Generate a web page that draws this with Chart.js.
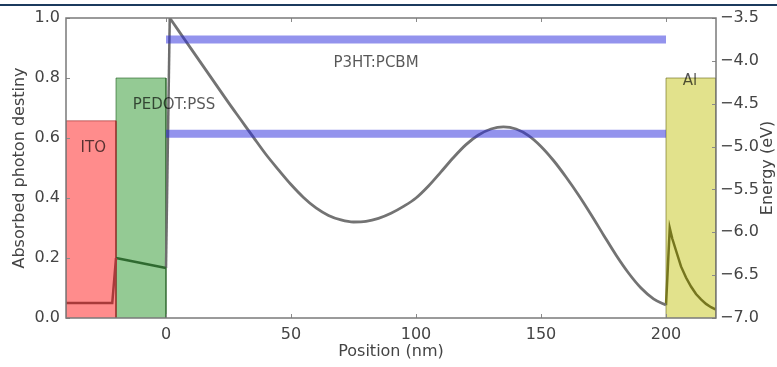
<!DOCTYPE html>
<html><head><meta charset="utf-8">
<script src="https://cdn.jsdelivr.net/npm/chart.js@4.4.1/dist/chart.umd.min.js"></script>
<style>html,body{margin:0;padding:0;background:#fff;} canvas{display:block;}</style>
</head><body>
<canvas id="c" width="777" height="367"></canvas>
<script>
// ---- data ----
const xTicks = [0, 50, 100, 150, 200];
const leftTicks = [0, 0.2, 0.4, 0.6, 0.8, 1.0];
const rightTicks = [-7.0, -6.5, -6.0, -5.5, -5.0, -4.5, -4.0, -3.5];

const layerNames = ['ITO', 'PEDOT:PSS', 'P3HT:PCBM', 'Al'];
const layerStart = [-40, -20, 0, 200];
const layerEnd = [-20, 0, 200, 220];
const layerEnergy = [-4.7, -4.2, null, -4.2];   // work functions (eV)
const bandEnergy = [-3.75, -4.85];               // P3HT:PCBM levels (eV)

const itoX = [-40, -21.5, -20];
const itoY = [0.05, 0.05, 0.2];
const pedotX = [-20, 0];
const pedotY = [0.2, 0.167];
const p3htX = [0, 1.5, 5, 10, 15, 20, 25, 30, 35, 40, 45, 50, 55, 60, 65, 70, 75, 80, 85, 90, 95, 100,
  105, 110, 115, 120, 125, 130, 135, 140, 145, 150, 155, 160, 165, 170, 175, 180, 185, 190, 195, 200];
const p3htY = [0.167, 1.0, 0.958, 0.898, 0.838, 0.778, 0.718, 0.66, 0.602, 0.545, 0.494, 0.445, 0.402, 0.367,
  0.342, 0.327, 0.32, 0.322, 0.332, 0.349, 0.372, 0.40, 0.44, 0.487, 0.535, 0.578, 0.61, 0.63, 0.637, 0.63,
  0.608, 0.572, 0.525, 0.47, 0.41, 0.345, 0.277, 0.21, 0.15, 0.10, 0.064, 0.043];
const alX = [200, 201.5, 202.5, 204, 206, 208, 210, 212, 214, 216, 218, 220];
const alY = [0.043, 0.30, 0.265, 0.225, 0.172, 0.135, 0.105, 0.08, 0.062, 0.047, 0.036, 0.028];

// ---- build ----
const pts = (xs, ys) => xs.map((v, i) => ({x: v, y: ys[i]}));
const rectFill = ['rgba(255,0,0,0.45)', 'rgba(0,128,0,0.42)', null, 'rgba(191,191,0,0.45)'];
const rectEdge = ['rgba(150,40,40,0.6)', 'rgba(30,90,30,0.6)', null, 'rgba(100,100,20,0.6)'];

const datasets = [];
layerEnergy.forEach((e, i) => {
  if (e === null) return;
  datasets.push({
    label: layerNames[i], yAxisID: 'y2', order: 3,
    data: [{x: layerStart[i], y: -7}, {x: layerStart[i], y: e}, {x: layerEnd[i], y: e}, {x: layerEnd[i], y: -7}],
    backgroundColor: rectFill[i], borderColor: rectEdge[i], borderWidth: 1, fill: 'start',
    pointRadius: 0, tension: 0
  });
});
bandEnergy.forEach((e) => {
  datasets.push({
    label: 'band', yAxisID: 'y2', order: 0,
    data: [{x: layerStart[2], y: e}, {x: layerEnd[2], y: e}],
    borderColor: 'rgba(40,40,220,0.5)', borderWidth: 8, borderCapStyle: 'butt',
    pointRadius: 0, fill: false
  });
});
datasets.push({label: 'ito', yAxisID: 'y', order: 1, data: pts(itoX, itoY), borderColor: '#a83a3a', borderWidth: 2.5, pointRadius: 0, fill: false, tension: 0});
datasets.push({label: 'pedot', yAxisID: 'y', order: 1, data: pts(pedotX, pedotY), borderColor: '#2f6a30', borderWidth: 2.5, pointRadius: 0, fill: false, tension: 0});
datasets.push({label: 'p3ht riser', yAxisID: 'y', order: 1, data: pts(p3htX.slice(0, 2), p3htY.slice(0, 2)), borderColor: '#6e6e6e', borderWidth: 2.5, pointRadius: 0, fill: false, tension: 0});
datasets.push({label: 'p3ht', yAxisID: 'y', order: 1, data: pts(p3htX.slice(1), p3htY.slice(1)), borderColor: '#737373', borderWidth: 2.8, pointRadius: 0, fill: false, cubicInterpolationMode: 'monotone'});
datasets.push({label: 'al', yAxisID: 'y', order: 1, data: pts(alX, alY), borderColor: '#76761e', borderWidth: 2.5, pointRadius: 0, fill: false, tension: 0});

const textLabels = [
  {t: layerNames[0], x: -29.1, y: 0.567},
  {t: layerNames[1], x: 3.2, y: 0.71},
  {t: layerNames[2], x: 84, y: 0.85},
  {t: layerNames[3], x: 209.6, y: 0.79}
];

const deco = {
  id: 'deco',
  beforeDraw(chart) {
    const c = chart.ctx;
    c.save();
    c.fillStyle = '#fff'; c.fillRect(0, 0, chart.width, chart.height);
    c.fillStyle = '#1b3a5e'; c.fillRect(0, 4, chart.width, 2);
    c.restore();
  },
  afterDatasetsDraw(chart) {
    const {ctx, chartArea: a, scales: {x, y, y2}} = chart;
    ctx.save();
    ctx.font = '15px "DejaVu Sans"';
    ctx.fillStyle = 'rgba(0,0,0,0.66)';
    ctx.textAlign = 'center'; ctx.textBaseline = 'middle';
    textLabels.forEach(l => ctx.fillText(l.t, x.getPixelForValue(l.x), y.getPixelForValue(l.y)));
    // inward tick marks
    ctx.strokeStyle = '#8a8a8a'; ctx.lineWidth = 1;
    ctx.beginPath();
    xTicks.forEach(v => { const p = Math.round(x.getPixelForValue(v)) + 0.5;
      ctx.moveTo(p, a.bottom); ctx.lineTo(p, a.bottom - 4); ctx.moveTo(p, a.top); ctx.lineTo(p, a.top + 4); });
    leftTicks.forEach(v => { const p = Math.round(y.getPixelForValue(v)) + 0.5;
      ctx.moveTo(a.left, p); ctx.lineTo(a.left + 4, p); });
    rightTicks.forEach(v => { const p = Math.round(y2.getPixelForValue(v)) + 0.5;
      ctx.moveTo(a.right, p); ctx.lineTo(a.right - 4, p); });
    ctx.stroke();
    // frame
    ctx.strokeStyle = '#7a7a7a'; ctx.lineWidth = 1.5;
    ctx.strokeRect(a.left, a.top, a.right - a.left, a.bottom - a.top);
    // axis titles
    ctx.font = '16px "DejaVu Sans"'; ctx.fillStyle = '#444';
    ctx.fillText('Position (nm)', (a.left + a.right) / 2, 352);
    const cy = (a.top + a.bottom) / 2;
    ctx.save(); ctx.translate(20, cy); ctx.rotate(-Math.PI / 2); ctx.fillText('Absorbed photon destiny', 0, 0); ctx.restore();
    ctx.save(); ctx.translate(768, cy); ctx.rotate(-Math.PI / 2); ctx.fillText('Energy (eV)', 0, 0); ctx.restore();
    ctx.restore();
  }
};

const tickFont = {family: 'DejaVu Sans', size: 16};
new Chart(document.getElementById('c'), {
  type: 'line',
  data: {datasets},
  options: {
    responsive: false, animation: false, devicePixelRatio: 1,
    layout: {padding: {top: 18, left: 0, right: 0, bottom: 0}},
    plugins: {legend: {display: false}, tooltip: {enabled: false}},
    scales: {
      x: {type: 'linear', min: -40, max: 220,
        afterBuildTicks: s => { s.ticks = xTicks.map(v => ({value: v})); },
        afterFit: s => { s.height = 49; },
        grid: {display: false, drawTicks: false}, border: {display: false},
        ticks: {font: tickFont, color: '#444', padding: 7, maxRotation: 0, callback: v => String(v)}},
      y: {type: 'linear', position: 'left', min: 0, max: 1,
        afterBuildTicks: s => { s.ticks = leftTicks.map(v => ({value: v})); },
        afterFit: s => { s.width = 66; },
        grid: {display: false, drawTicks: false}, border: {display: false},
        ticks: {font: tickFont, color: '#444', padding: 6, callback: v => Number(v).toFixed(1)}},
      y2: {type: 'linear', position: 'right', min: -7, max: -3.5,
        afterBuildTicks: s => { s.ticks = rightTicks.map(v => ({value: v})); },
        afterFit: s => { s.width = 61; },
        grid: {display: false, drawTicks: false}, border: {display: false},
        ticks: {font: tickFont, color: '#444', padding: 4, callback: v => '\u2212' + Math.abs(v).toFixed(1)}}
    }
  },
  plugins: [deco]
});
</script>
</body></html>
